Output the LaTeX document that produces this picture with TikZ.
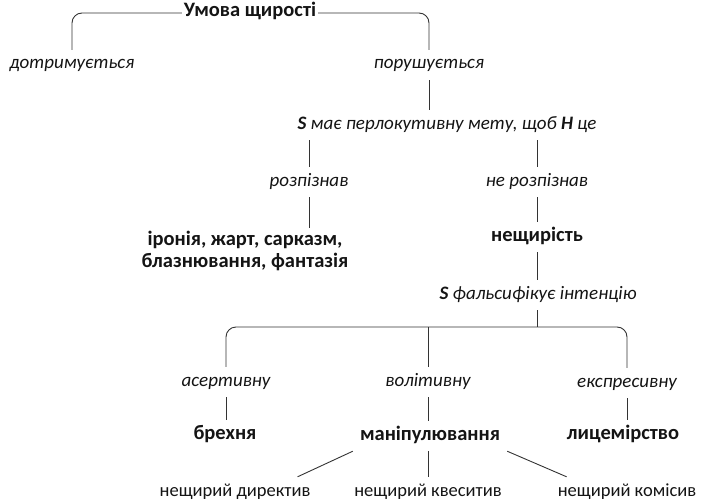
\documentclass[tikz,border=0pt]{standalone}
\usepackage{fontspec}
\setmainfont{Carlito}
\begin{document}
\begin{tikzpicture}[x=1pt,y=-1pt,
  every node/.style={text=black!92,
    inner xsep=7pt, inner ysep=7pt, text height=12pt, text depth=4pt},
  lab/.style={font=\fontsize{19}{22}\selectfont\itshape},
  term/.style={font=\fontsize{20.5}{22}\selectfont\bfseries},
  leaf/.style={font=\fontsize{18.5}{22}\selectfont},
  conn/.style={draw=black!80, line width=0.9pt},
  bracket/.style={conn, rounded corners=10pt}]
\useasboundingbox (0,0) rectangle (707,503);

% top level
\node[term, inner xsep=2pt] (top) at (250,13) {Умова щирості};
\node[lab] (keep) at (72,65) {дотримується};
\node[lab] (break) at (429,65) {порушується};
\node[lab] (goal) at (447,125) {\textbf{S} має перлокутивну мету, щоб \textbf{H} це};

% recognition branch
\node[lab] (rec) at (309,182) {розпізнав};
\node[lab] (norec) at (537,182) {не розпізнав};
\node[term, align=center, text height=, text depth=, inner ysep=3pt] (irony) at (245,251)
  {іронія, жарт, сарказм,\\блазнювання, фантазія};
\node[term] (insinc) at (537,237) {нещирість};
\node[lab] (fals) at (538,295) {\textbf{S} фальсифікує інтенцію};
\coordinate (fork) at (537,327);

% kinds of falsified intention
\node[lab] (aser) at (226,382) {асертивну};
\node[lab] (vol) at (428,382) {волітивну};
\node[lab] (expr) at (627,383) {експресивну};
\node[term] (lie) at (225,435) {брехня};
\node[term] (manip) at (430,436) {маніпулювання};
\node[term] (hyp) at (623,435) {лицемірство};

% kinds of manipulation
\node[leaf] (dir) at (235,492) {нещирий директив};
\node[leaf] (ques) at (428,492) {нещирий квеситив};
\node[leaf] (com) at (627,492) {нещирий комісив};

% connectors
\draw[bracket] (keep.north) |- (top.west);
\draw[bracket] (top.east) -| (break.north);
\draw[conn] (break.south) -- (break.south |- goal.north);
\draw[conn] (rec.north |- goal.south) -- (rec.north);
\draw[conn] (norec.north |- goal.south) -- (norec.north);
\draw[conn] (rec.south) -- (rec.south |- irony.north);
\draw[conn] (norec.south) -- (insinc.north);
\draw[conn] (insinc.south) -- (insinc.south |- fals.north);
\draw[conn] (fals.south -| fork) -- (fork);
\draw[bracket] (aser.north) |- (fork) -| (expr.north);
\draw[conn] (vol.north |- fork) -- (vol.north);
\draw[conn] (aser.south) -- (aser.south |- lie.north);
\draw[conn] (vol.south) -- (vol.south |- manip.north);
\draw[conn] (expr.south) -- (expr.south |- hyp.north);
\draw[conn] (manip.south west) -- ([xshift=-20pt]dir.north east);
\draw[conn] (manip.south -| ques.north) -- (ques.north);
\draw[conn] (manip.south east) -- ([xshift=16pt]com.north west);
\end{tikzpicture}
\end{document}
